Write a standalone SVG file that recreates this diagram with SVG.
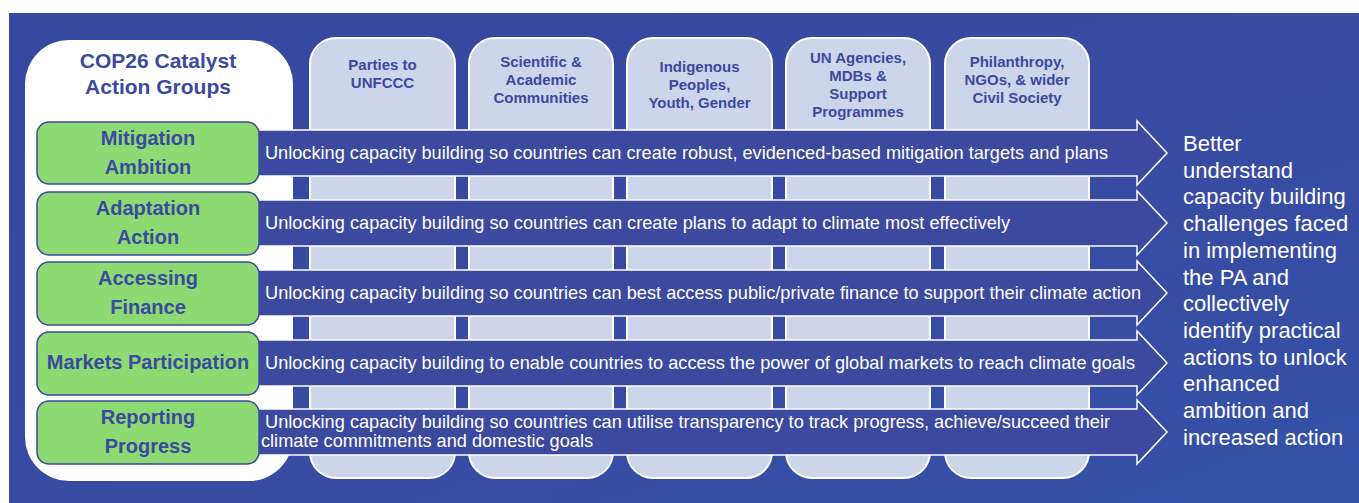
<svg xmlns="http://www.w3.org/2000/svg" width="1359" height="503" viewBox="0 0 1359 503">
<defs>
<linearGradient id="bg" x1="0" y1="0" x2="1" y2="1">
<stop offset="0" stop-color="#3647a0"/>
<stop offset="0.5" stop-color="#394aa2"/>
<stop offset="1" stop-color="#3451a8"/>
</linearGradient>
<style>
.hdr{font-family:"Liberation Sans",Arial,sans-serif;font-weight:bold;fill:#3b4a9f;text-anchor:middle}
.col{fill:#cdd5ea;stroke:#ffffff;stroke-width:2}
.grn{fill:#8dda72;stroke:#3b4a9f;stroke-width:1.5}
.arr{fill:#3b4a9f;stroke:#ffffff;stroke-width:1.5;stroke-linejoin:miter}
.atx{font-family:"Liberation Sans",Arial,sans-serif;font-size:17.8px;fill:#ffffff}
.out{font-family:"Liberation Sans",Arial,sans-serif;font-size:22px;fill:#ffffff}
</style>
</defs>
<rect x="0" y="0" width="1359" height="503" fill="#ffffff"/>
<rect x="9" y="13" width="1350" height="490" fill="url(#bg)"/>

<g id="title-box">
<rect x="25" y="40" width="268" height="441" rx="44" fill="#ffffff"/>
<text class="hdr" font-size="21" x="158" y="68">COP26 Catalyst</text>
<text class="hdr" font-size="21" x="158" y="94">Action Groups</text>
</g>

<g id="col-parties">
<rect class="col" x="310" y="38" width="145" height="440" rx="26"/>
<text class="hdr" font-size="15" x="382.5" y="70">Parties to</text>
<text class="hdr" font-size="15" x="382.5" y="88">UNFCCC</text>
</g>
<g id="col-scientific">
<rect class="col" x="469" y="38" width="144" height="440" rx="26"/>
<text class="hdr" font-size="15" x="541" y="67">Scientific &amp;</text>
<text class="hdr" font-size="15" x="541" y="85">Academic</text>
<text class="hdr" font-size="15" x="541" y="103">Communities</text>
</g>
<g id="col-indigenous">
<rect class="col" x="627" y="38" width="145" height="440" rx="26"/>
<text class="hdr" font-size="15" x="699.5" y="72">Indigenous</text>
<text class="hdr" font-size="15" x="699.5" y="90">Peoples,</text>
<text class="hdr" font-size="15" x="699.5" y="108">Youth, Gender</text>
</g>
<g id="col-un">
<rect class="col" x="786" y="38" width="144" height="440" rx="26"/>
<text class="hdr" font-size="15" x="858" y="63">UN Agencies,</text>
<text class="hdr" font-size="15" x="858" y="81">MDBs &amp;</text>
<text class="hdr" font-size="15" x="858" y="99">Support</text>
<text class="hdr" font-size="15" x="858" y="117">Programmes</text>
</g>
<g id="col-philanthropy">
<rect class="col" x="945" y="38" width="144" height="440" rx="26"/>
<text class="hdr" font-size="15" x="1017" y="67">Philanthropy,</text>
<text class="hdr" font-size="15" x="1017" y="85">NGOs, &amp; wider</text>
<text class="hdr" font-size="15" x="1017" y="103">Civil Society</text>
</g>

<g id="connectors">
<path class="arr" d="M255,130 H1137 V121 L1167,153 L1137,185 V176 H255 Z"/>
<path class="arr" d="M255,200 H1137 V191 L1167,223 L1137,255 V246 H255 Z"/>
<path class="arr" d="M255,270 H1137 V261 L1167,293 L1137,325 V316 H255 Z"/>
<path class="arr" d="M255,340 H1137 V331 L1167,363 L1137,395 V386 H255 Z"/>
<path class="arr" d="M255,409 H1137 V400 L1167,432 L1137,464 V455 H255 Z"/>
<text class="atx" x="265" y="159" textLength="843" lengthAdjust="spacingAndGlyphs">Unlocking capacity building so countries can create robust, evidenced-based mitigation targets and plans</text>
<text class="atx" x="265" y="229" textLength="745" lengthAdjust="spacingAndGlyphs">Unlocking capacity building so countries can create plans to adapt to climate most effectively</text>
<text class="atx" x="265" y="299" textLength="876" lengthAdjust="spacingAndGlyphs">Unlocking capacity building so countries can best access public/private finance to support their climate action</text>
<text class="atx" x="265" y="369" textLength="870" lengthAdjust="spacingAndGlyphs">Unlocking capacity building to enable countries to access the power of global markets to reach climate goals</text>
<text class="atx" x="265" y="428" textLength="845" lengthAdjust="spacingAndGlyphs">Unlocking capacity building so countries can utilise transparency to track progress, achieve/succeed their</text>
<text class="atx" x="261" y="447" textLength="332" lengthAdjust="spacingAndGlyphs">climate commitments and domestic goals</text>
</g>

<g id="grp-mitigation">
<rect class="grn" x="37" y="122" width="222" height="62" rx="12"/>
<text class="hdr" font-size="20" x="148" y="145">Mitigation</text>
<text class="hdr" font-size="20" x="148" y="174">Ambition</text>
</g>
<g id="grp-adaptation">
<rect class="grn" x="37" y="192" width="222" height="63" rx="12"/>
<text class="hdr" font-size="20" x="148" y="215">Adaptation</text>
<text class="hdr" font-size="20" x="148" y="244">Action</text>
</g>
<g id="grp-finance">
<rect class="grn" x="37" y="262" width="222" height="63" rx="12"/>
<text class="hdr" font-size="20" x="148" y="285">Accessing</text>
<text class="hdr" font-size="20" x="148" y="314">Finance</text>
</g>
<g id="grp-markets">
<rect class="grn" x="37" y="332" width="222" height="63" rx="12"/>
<text class="hdr" font-size="20" x="148" y="369">Markets Participation</text>
</g>
<g id="grp-reporting">
<rect class="grn" x="37" y="401" width="222" height="63" rx="12"/>
<text class="hdr" font-size="20" x="148" y="424">Reporting</text>
<text class="hdr" font-size="20" x="148" y="453">Progress</text>
</g>

<g id="outcome">
<text class="out" x="1183" y="151">Better</text>
<text class="out" x="1183" y="177.7">understand</text>
<text class="out" x="1183" y="204.4">capacity building</text>
<text class="out" x="1183" y="231.1">challenges faced</text>
<text class="out" x="1183" y="257.8">in implementing</text>
<text class="out" x="1183" y="284.5">the PA and</text>
<text class="out" x="1183" y="311.2">collectively</text>
<text class="out" x="1183" y="337.9">identify practical</text>
<text class="out" x="1183" y="364.6">actions to unlock</text>
<text class="out" x="1183" y="391.3">enhanced</text>
<text class="out" x="1183" y="418">ambition and</text>
<text class="out" x="1183" y="444.7">increased action</text>
</g>
</svg>
